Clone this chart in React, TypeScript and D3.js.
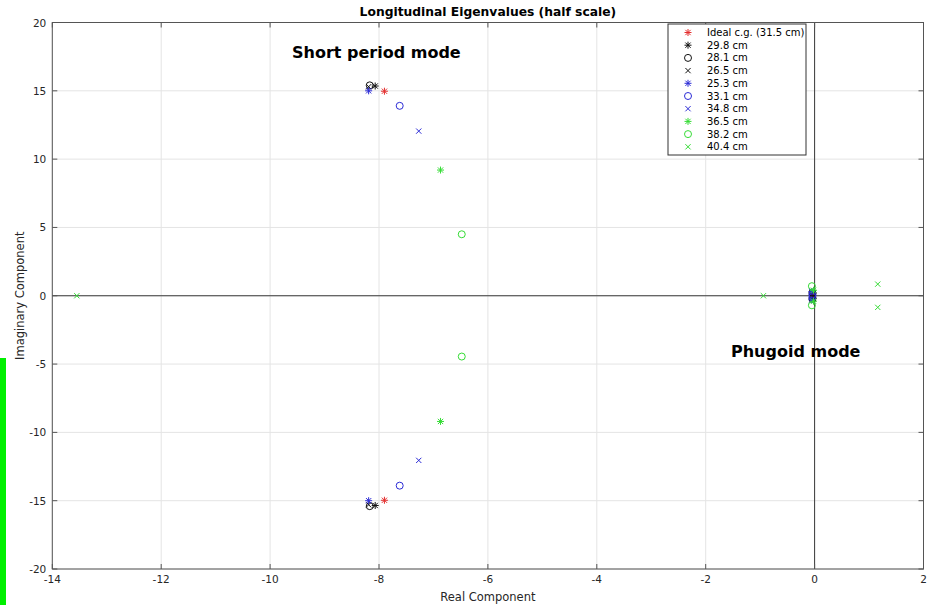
import React from 'react';
import * as d3 from 'd3';

// legend entries, in plot order
const seriesLabels = [
  'Ideal c.g. (31.5 cm)', '29.8 cm', '28.1 cm', '26.5 cm', '25.3 cm',
  '33.1 cm', '34.8 cm', '36.5 cm', '38.2 cm', '40.4 cm',
];
const seriesMarkers = ['*', '*', 'o', 'x', '*', 'o', 'x', '*', 'o', 'x'];
const seriesColors = [
  '#e42f2f', '#111111', '#111111', '#111111', '#2b2bd6',
  '#2b2bd6', '#2b2bd6', '#35dc35', '#35dc35', '#35dc35',
];

// eigenvalues [real, imag] for each c.g. position
const eigIdeal = [[-7.9, 14.97], [-7.9, -14.97], [-0.03, 0.15], [-0.03, -0.15]];
const eig298 = [[-8.07, 15.35], [-8.07, -15.35], [-0.03, 0.2], [-0.03, -0.2]];
const eig281 = [[-8.17, 15.4], [-8.17, -15.4], [-0.04, 0.22], [-0.04, -0.22]];
const eig265 = [[-8.19, 15.3], [-8.19, -15.3], [-0.04, 0.25], [-0.04, -0.25]];
const eig253 = [[-8.19, 15.0], [-8.19, -15.0], [-0.05, 0.3], [-0.05, -0.3]];
const eig331 = [[-7.62, 13.9], [-7.62, -13.9], [-0.04, 0.1], [-0.04, -0.1]];
const eig348 = [[-7.27, 12.05], [-7.27, -12.05], [-0.05, 0.35], [-0.05, -0.35]];
const eig365 = [[-6.87, 9.2], [-6.87, -9.2], [-0.02, 0.4], [-0.02, -0.4]];
const eig382 = [[-6.48, 4.5], [-6.48, -4.45], [-0.05, 0.7], [-0.05, -0.7]];
const eig404 = [[-13.55, 0], [-0.94, 0], [1.16, 0.85], [1.16, -0.85]];
const eigenvalues = [eigIdeal, eig298, eig281, eig265, eig253, eig331, eig348, eig365, eig382, eig404];

const xTicks = [-14, -12, -10, -8, -6, -4, -2, 0, 2];
const yTicks = [20, 15, 10, 5, 0, -5, -10, -15, -20];

const W = 928;
const H = 605;
const margin = { top: 22.5, right: 4.5, bottom: 36, left: 52.3 };
const font = 'DejaVu Sans, sans-serif';

function Marker({ type, x, y, color }: { type: string; x: number; y: number; color: string }) {
  const r = 3.5;
  if (type === 'o') return <circle cx={x} cy={y} r={r} fill="none" stroke={color} strokeWidth={1} />;
  const d = r * 0.75;
  const diag = `M${x - d},${y - d}L${x + d},${y + d}M${x - d},${y + d}L${x + d},${y - d}`;
  if (type === 'x') return <path d={diag} stroke={color} strokeWidth={1} fill="none" />;
  const plus = `M${x - r},${y}L${x + r},${y}M${x},${y - r}L${x},${y + r}`;
  return <path d={plus + diag} stroke={color} strokeWidth={1} fill="none" />;
}

export default function App() {
  const x = d3.scaleLinear().domain([-14, 2]).range([margin.left, W - margin.right]);
  const y = d3.scaleLinear().domain([-20, 20]).range([H - margin.bottom, margin.top]);
  const [x0, x1] = x.range();
  const [yb, yt] = y.range();
  const tick = 5;

  return (
    <svg width={W} height={H} style={{ position: 'absolute', left: 0, top: 0, background: '#fff' }}>
      {/* stray green bar at the left edge of the picture */}
      <rect x={0} y={358} width={6} height={H - 358} fill="#00f000" />

      {/* grid */}
      {xTicks.map((t) => (
        <line key={'gx' + t} x1={x(t)} x2={x(t)} y1={yt} y2={yb} stroke="#e4e4e4" />
      ))}
      {yTicks.map((t) => (
        <line key={'gy' + t} x1={x0} x2={x1} y1={y(t)} y2={y(t)} stroke="#e4e4e4" />
      ))}

      {/* zero lines */}
      <line x1={x0} x2={x1} y1={y(0)} y2={y(0)} stroke="#3a3a3a" strokeWidth={1} />
      <line x1={x(0)} x2={x(0)} y1={yt} y2={yb} stroke="#3a3a3a" strokeWidth={1} />

      {/* axes box and ticks */}
      <rect x={x0} y={yt} width={x1 - x0} height={yb - yt} fill="none" stroke="#555" strokeWidth={1} />
      {xTicks.map((t) => (
        <g key={'tx' + t}>
          <line x1={x(t)} x2={x(t)} y1={yb} y2={yb - tick} stroke="#555" />
          <line x1={x(t)} x2={x(t)} y1={yt} y2={yt + tick} stroke="#555" />
          <text x={x(t)} y={yb + 14} textAnchor="middle" fontFamily={font} fontSize={10.5} fill="#262626">{t}</text>
        </g>
      ))}
      {yTicks.map((t) => (
        <g key={'ty' + t}>
          <line x1={x0} x2={x0 + tick} y1={y(t)} y2={y(t)} stroke="#555" />
          <line x1={x1} x2={x1 - tick} y1={y(t)} y2={y(t)} stroke="#555" />
          <text x={x0 - 6} y={y(t) + 4} textAnchor="end" fontFamily={font} fontSize={10.5} fill="#262626">{t}</text>
        </g>
      ))}

      {/* points */}
      {eigenvalues.map((pts, i) =>
        pts.map((p, j) => (
          <Marker key={i + '-' + j} type={seriesMarkers[i]} x={x(p[0])} y={y(p[1])} color={seriesColors[i]} />
        ))
      )}

      {/* labels */}
      <text x={(x0 + x1) / 2} y={16} textAnchor="middle" fontFamily={font} fontWeight="bold" fontSize={12.3} fill="#000">
        Longitudinal Eigenvalues (half scale)
      </text>
      <text x={(x0 + x1) / 2} y={601} textAnchor="middle" fontFamily={font} fontSize={11.5} fill="#262626">Real Component</text>
      <text transform={`translate(24,${(yt + yb) / 2}) rotate(-90)`} textAnchor="middle" fontFamily={font} fontSize={11.5} fill="#262626">
        Imaginary Component
      </text>
      <text x={292} y={58} fontFamily={font} fontWeight="bold" fontSize={16} fill="#000">Short period mode</text>
      <text x={731} y={357} fontFamily={font} fontWeight="bold" fontSize={16} fill="#000">Phugoid mode</text>

      {/* legend */}
      <rect x={668} y={24} width={138} height={131} fill="#fff" stroke="#333" />
      {seriesLabels.map((s, i) => (
        <g key={'lg' + i}>
          <Marker type={seriesMarkers[i]} x={688} y={32.5 + i * 12.7} color={seriesColors[i]} />
          <text x={707} y={36 + i * 12.7} fontFamily={font} fontSize={10} fill="#000">{s}</text>
        </g>
      ))}
    </svg>
  );
}
